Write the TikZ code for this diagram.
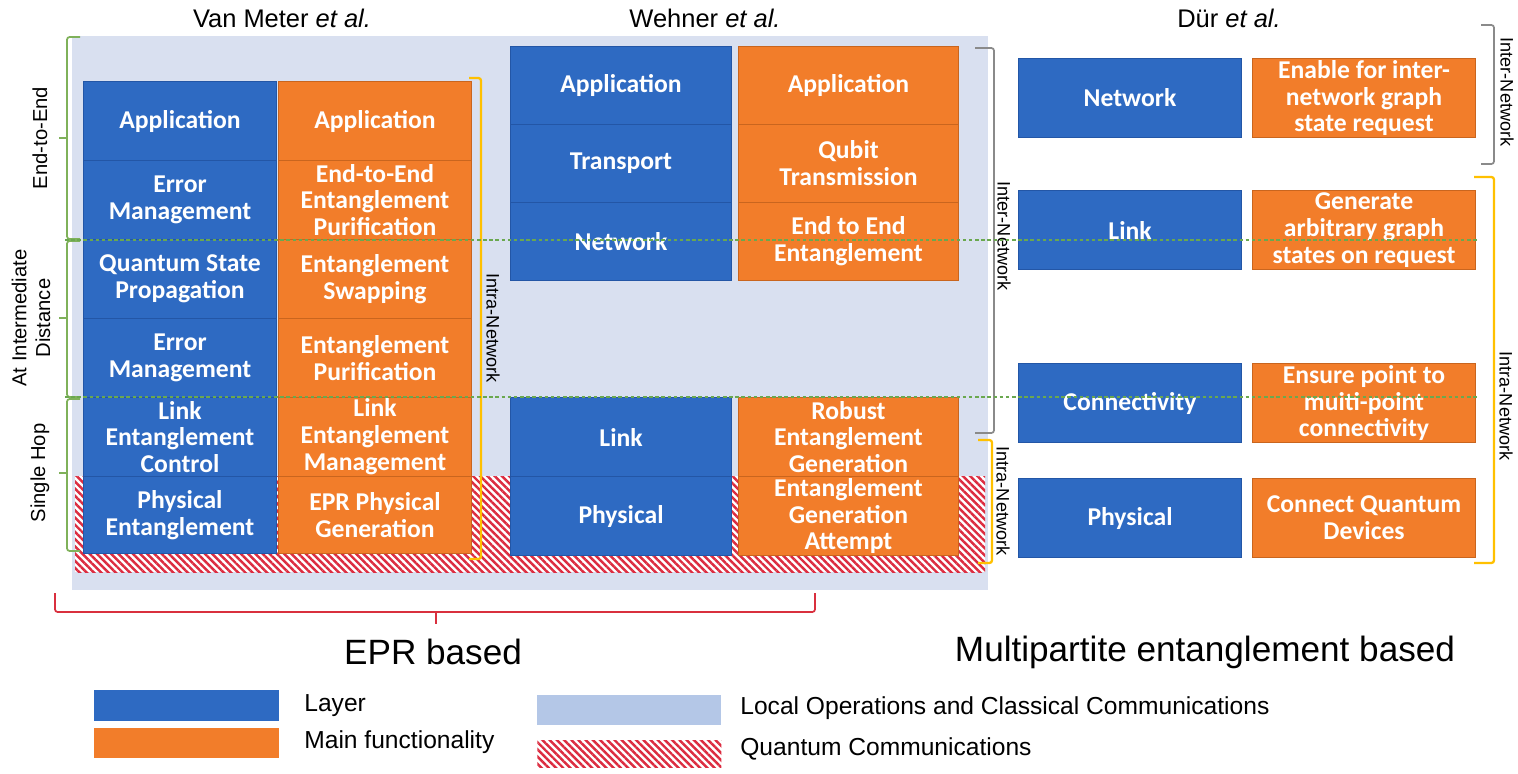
\documentclass[tikz,border=0pt]{standalone}
\usepackage{fontspec}
\setmainfont{Liberation Sans}
\newfontfamily\boxfont{Carlito}
\usetikzlibrary{patterns.meta}
\definecolor{layblue}{HTML}{2E6AC2}
\definecolor{layedge}{HTML}{2356A6}
\definecolor{funorange}{HTML}{F27D2A}
\definecolor{funedge}{HTML}{C9651E}
\definecolor{loccbg}{HTML}{D9E0F0}
\definecolor{loccleg}{HTML}{B4C7E7}
\definecolor{hatchred}{HTML}{DC2C40}
\definecolor{brgreen}{HTML}{7FB15A}
\definecolor{dotgreen}{HTML}{6AA84F}
\definecolor{bryellow}{HTML}{FFC000}
\definecolor{brgray}{HTML}{8A8A8A}
\definecolor{brred}{HTML}{D9303E}
\begin{document}
\begin{tikzpicture}[x=0.02cm,y=-0.02cm,
  box/.style={anchor=north west, inner sep=0pt, align=center, text=white,
    font=\boxfont\bfseries\fontsize{14.6}{15.3}\selectfont, line width=0.6pt},
  lay/.style={box, fill=layblue, draw=layedge},
  fun/.style={box, fill=funorange, draw=funedge},
  vm/.style={minimum width=3.86cm, minimum height=1.58cm},
  wb/.style={minimum width=4.42cm, minimum height=1.56cm},
  wo/.style={minimum width=4.40cm, minimum height=1.56cm},
  db/.style={minimum width=4.46cm, minimum height=1.58cm},
  hatch/.style={fill=white, pattern={Lines[angle=-45,distance=2.9pt,line width=1.4pt]}, pattern color=hatchred},
  brk/.style={line width=1pt, rounded corners=1.5pt},
  hdr/.style={font=\fontsize{14.5}{17}\selectfont},
  side/.style={font=\fontsize{11.5}{13.5}\selectfont, align=center, rotate=90},
  net/.style={font=\fontsize{10.3}{12}\selectfont, rotate=-90},
  big/.style={font=\fontsize{20}{24}\selectfont},
  legt/.style={anchor=west, inner sep=0pt, font=\fontsize{14}{16}\selectfont},
  legb/.style={anchor=north west, inner sep=0pt, minimum width=3.7cm},
  gdot/.style={dotgreen, line width=1pt, dash pattern=on 2pt off 1.5pt}
]
\useasboundingbox (0,0) rectangle (1518,774);

% LOCC background and quantum communication band
\fill[loccbg] (72,36) rectangle (988,590);
\fill[white] (75,476) rectangle (985,572);
\fill[hatch] (75,476) rectangle (985,572);

% Headers
\node[hdr] (h1) at (282,18) {Van Meter \textit{et al.}};
\node[hdr] (h2) at (705,18) {Wehner \textit{et al.}};
\node[hdr] (h3) at (1229,18) {Dür \textit{et al.}};

% Van Meter et al.
\node[lay,vm] (vmA) at (83,81) {Application};
\node[fun,vm] (vmAf) at (278,81) {Application};
\node[lay,vm] (vmE) at (83,160) {Error\\Management};
\node[fun,vm] (vmEf) at (278,160) {End-to-End\\Entanglement\\Purification};
\node[lay,vm] (vmQ) at (83,239) {Quantum State\\Propagation};
\node[fun,vm] (vmQf) at (278,239) {Entanglement\\Swapping};
\node[lay,vm] (vmE2) at (83,318) {Error\\Management};
\node[fun,vm] (vmE2f) at (278,318) {Entanglement\\Purification};
\node[lay,vm] (vmL) at (83,397) {Link\\Entanglement\\Control};
\node[fun,vm] (vmLf) at (278,397) {Link\\Entanglement\\Management};
\node[lay,vm,minimum height=1.54cm] (vmP) at (83,476) {Physical\\Entanglement};
\node[fun,vm,minimum height=1.54cm] (vmPf) at (278,476) {EPR Physical\\Generation};

% Wehner et al.
\node[lay,wb] (wA) at (510,46) {Application};
\node[fun,wo] (wAf) at (738,46) {Application};
\node[lay,wb] (wT) at (510,124) {Transport};
\node[fun,wo] (wTf) at (738,124) {Qubit\\Transmission};
\node[lay,wb] (wN) at (510,202) {Network};
\node[fun,wo] (wNf) at (738,202) {End to End\\Entanglement};
\node[lay,wb,minimum height=1.58cm] (wL) at (510,397) {Link};
\node[fun,wo,minimum height=1.58cm] (wLf) at (738,397) {Robust\\Entanglement\\Generation};
\node[lay,wb,minimum height=1.58cm] (wP) at (510,476) {Physical};
\node[fun,wo,minimum height=1.58cm] (wPf) at (738,476) {Entanglement\\Generation\\Attempt};

% Dur et al.
\node[lay,db] (dN) at (1018,58) {Network};
\node[fun,db] (dNf) at (1252,58) {Enable for inter-\\network graph\\state request};
\node[lay,db] (dL) at (1018,190) {Link};
\node[fun,db] (dLf) at (1252,190) {Generate\\arbitrary graph\\states on request};
\node[lay,db] (dC) at (1018,363) {Connectivity};
\node[fun,db] (dCf) at (1252,363) {Ensure point to\\muiti-point\\connectivity};
\node[lay,db] (dP) at (1018,478) {Physical};
\node[fun,db] (dPf) at (1252,478) {Connect Quantum\\Devices};

% Left green brackets
\draw[brk,brgreen] (80,37) -- (67,37) -- (67,239) -- (80,239);
\draw[brgreen,line width=1pt] (67,138) -- (59,138);
\draw[brk,brgreen] (80,241) -- (67,241) -- (67,397) -- (80,397);
\draw[brgreen,line width=1pt] (67,318) -- (59,318);
\draw[brk,brgreen] (80,399) -- (67,399) -- (67,551) -- (80,551);
\draw[brgreen,line width=1pt] (67,473) -- (59,473);
\node[side] (s1) at (40,138) {End-to-End};
\node[side] (s2) at (31,318) {At Intermediate\\Distance};
\node[side] (s3) at (40,473) {Single Hop};

% Network scope brackets
\draw[brk,bryellow,line width=1.3pt] (469,78) -- (481,78) -- (481,559) -- (469,559);
\node[net] (n1) at (493,328) {Intra-Network};
\draw[brk,brgray] (975,48) -- (994,48) -- (994,433) -- (975,433);
\node[net] (n2) at (1004,236) {Inter-Network};
\draw[brk,bryellow,line width=1.3pt] (978,440) -- (992,440) -- (992,563) -- (978,563);
\node[net] (n3) at (1003,501) {Intra-Network};
\draw[brk,brgray] (1481,25) -- (1494,25) -- (1494,164) -- (1481,164);
\node[net] (n4) at (1507,92) {Inter-Network};
\draw[brk,bryellow,line width=1.3pt] (1474,177) -- (1494,177) -- (1494,563) -- (1474,563);
\node[net] (n5) at (1506,406) {Intra-Network};

% Green dotted level lines
\draw[gdot] (65,240) -- (1478,240);
\draw[gdot] (65,397) -- (1478,397);

% EPR based bracket
\draw[brk,brred] (55,593) -- (55,612) -- (815,612) -- (815,593);
\draw[brred,line width=1pt] (436,612) -- (436,624);
\node[big] (epr) at (433,652) {EPR based};
\node[big] (mpe) at (1205,652) {Multipartite entanglement based};

% Legend
\node[legb, fill=layblue, minimum height=0.62cm] (lg1) at (94,690) {};
\node[legt] (lt1) at (304,706) {Layer};
\node[legb, fill=funorange, minimum height=0.6cm] (lg2) at (94,728) {};
\node[legt] (lt2) at (304,742) {Main functionality};
\node[legb, fill=loccleg, minimum width=3.68cm, minimum height=0.6cm] (lg3) at (537,695) {};
\node[legt] (lt3) at (740,708) {Local Operations and Classical Communications};
\node[legb, hatch, minimum width=3.68cm, minimum height=0.54cm] (lg4) at (537,740) {};
\node[legt] (lt4) at (740,749) {Quantum Communications};
\end{tikzpicture}
\end{document}
